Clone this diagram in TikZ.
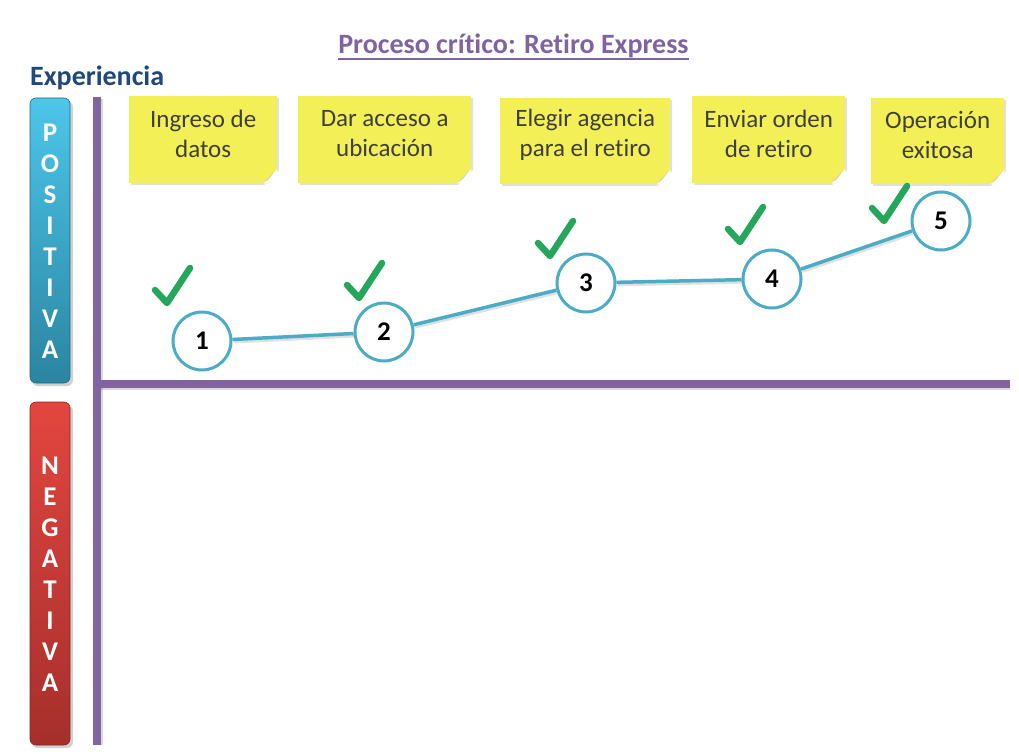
\documentclass[tikz,border=0pt]{standalone}
\usepackage{fontspec}
\setmainfont{Carlito}[Ligatures={NoCommon}]
\usetikzlibrary{calc}
\definecolor{axispurple}{HTML}{8064A2}
\definecolor{titlepurple}{HTML}{8064A2}
\definecolor{expblue}{HTML}{1F497D}
\definecolor{teal}{HTML}{4BACC6}
\definecolor{checkgreen}{HTML}{24A65B}
\definecolor{notey}{HTML}{F3EF56}
\definecolor{notefold}{HTML}{D8D48A}
\definecolor{notetext}{HTML}{3F3F3F}
\definecolor{postop}{HTML}{4DC6E9}
\definecolor{posbot}{HTML}{2A85A2}
\definecolor{negtop}{HTML}{E3463F}
\definecolor{negbot}{HTML}{A52F2C}
\tikzset{
  note/.style={fill=notey, inner sep=0pt},
  notelabel/.style={font=\fontsize{25}{30}\selectfont, text=notetext, align=center, inner sep=0pt},
  stepcircle/.style={circle, draw=teal, line width=3pt, fill=white, minimum size=58pt, inner sep=0pt, font=\fontsize{27}{28}\selectfont\bfseries},
  link/.style={draw=teal, line width=3.5pt},
  linkshadow/.style={draw=black, line width=3pt, opacity=0.12},
  axis/.style={draw=axispurple, line width=8pt},
  barletter/.style={font=\fontsize{27}{28}\selectfont\bfseries, text=white, inner sep=0pt},
  posbar/.style={rounded corners=6pt, top color=postop, bottom color=posbot, draw=posbot!80!black, line width=0.6pt},
  negbar/.style={rounded corners=6pt, top color=negtop, bottom color=negbot, draw=negbot!80!black, line width=0.6pt},
  check/.pic={\draw[checkgreen, line width=6.5pt, line cap=round, line join=round] (0,0) -- (12,13) -- (35,-22);}
}
\begin{document}
\begin{tikzpicture}[x=1pt,y=-1pt]
\useasboundingbox (0,0) rectangle (1019,754);
\fill[white] (0,0) rectangle (1019,754);

% title
\node[anchor=base, font=\fontsize{28}{32}\selectfont\bfseries, text=titlepurple, inner sep=0pt] (title) at (513.5,54) {Proceso crítico: Retiro Express};
\draw[titlepurple, line width=2pt] ($(title.base west)+(0,5)$) -- ($(title.base east)+(0,5)$);
\node[anchor=base west, font=\fontsize{28}{32}\selectfont\bfseries, text=expblue, inner sep=0pt] (exp) at (30,86) {Experiencia};

% side bars
\fill[black, opacity=0.18, rounded corners=6pt] (32,101) rectangle (73,386);
\path[posbar] (30,98) rectangle (70,383);
\fill[black, opacity=0.18, rounded corners=6pt] (32,405) rectangle (73,748);
\path[negbar] (30,402) rectangle (70,745);
\foreach \l [count=\i] in {P,O,S,I,T,I,V,A}
  \node[barletter] (p\i) at (50,{133+31*(\i-1)}) {\l};
\foreach \l [count=\i] in {N,E,G,A,T,I,V,A}
  \node[barletter] (n\i) at (50,{466+31*(\i-1)}) {\l};

% axes
\coordinate (vtop) at (97,97);
\coordinate (vbot) at (97,745);
\coordinate (hl) at (97,384);
\coordinate (hr) at (1010,384);
\draw[black, opacity=0.15, line width=8pt] ($(vtop)+(2,2)$) -- ($(vbot)+(2,0)$);
\draw[black, opacity=0.15, line width=8pt] ($(hl)+(2,2)$) -- ($(hr)+(0,2)$);
\draw[axis] (vtop) -- (vbot);
\draw[axis] ($(hl)+(-4,0)$) -- (hr);

% sticky notes
\foreach \name/\x/\y/\w/\h/\txt in {
  s1/129/96/148/87/{Ingreso de\\datos},
  s2/298/96/173/87/{Dar acceso a\\ubicación},
  s3/500/98/170/86/{Elegir agencia\\para el retiro},
  s4/692/96/153/87/{Enviar orden\\de retiro},
  s5/871/98/133/86/{Operación\\exitosa}}
{
  \fill[black, opacity=0.12] (\x+2,\y+2) -- (\x+\w+2,\y+2) -- (\x+\w+2,\y+\h-15+2) -- (\x+\w-15+2,\y+\h+2) -- (\x+2,\y+\h+2) -- cycle;
  \node[note, anchor=north west, minimum width=\w pt, minimum height=\h pt] (\name) at (\x,\y) {};
  \fill[white] (\name.south east) -- ++(-15,0) -- ++(15,-15) -- cycle;
  \fill[notefold] ($(\name.south east)+(-15,0)$) -- ($(\name.south east)+(0,-15)$) -- ($(\name.south east)+(-9,-4)$) -- cycle;
  \node[notelabel] (\name t) at ($(\name.center)+(0,-6)$) {\txt};
}

% circles
\node[stepcircle] (c1) at (202,341) {1};
\node[stepcircle] (c2) at (384,332) {2};
\node[stepcircle] (c3) at (586,283) {3};
\node[stepcircle] (c4) at (772,279) {4};
\node[stepcircle] (c5) at (941,221) {5};

\foreach \a/\b in {c1/c2,c2/c3,c3/c4,c4/c5}{
  \draw[linkshadow] ($(\a.center)!31pt!(\b.center)+(1,2.5)$) -- ($(\b.center)!31pt!(\a.center)+(1,2.5)$);
  \draw[link] (\a) -- (\b);
}

% checks
\pic at (155,290) {check};
\pic at (347,285) {check};
\pic at (538,243) {check};
\pic at (728,229) {check};
\pic at (872,208) {check};
\end{tikzpicture}
\end{document}
